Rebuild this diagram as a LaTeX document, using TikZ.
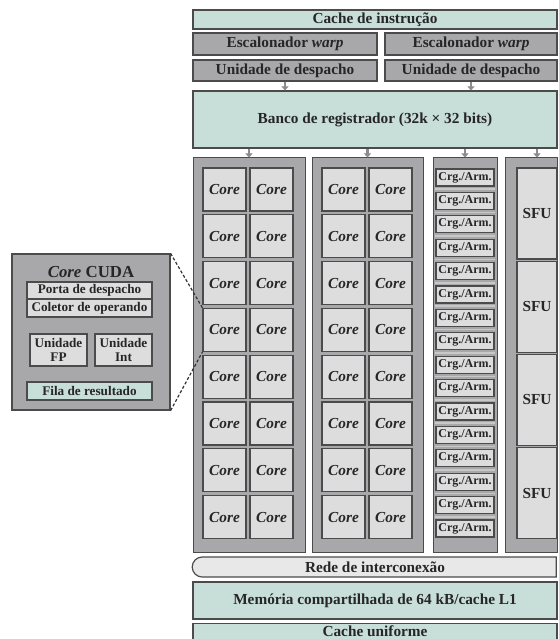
\documentclass[tikz,border=0pt]{standalone}
\usepackage{fontspec}
\setmainfont{Liberation Serif}
\usetikzlibrary{shapes.misc,arrows.meta,calc}
\definecolor{teal1}{RGB}{200,222,216}
\definecolor{gray1}{RGB}{168,168,170}
\definecolor{gray2}{RGB}{221,221,221}
\definecolor{bord}{RGB}{75,75,75}
\definecolor{arrg}{RGB}{140,140,140}
\definecolor{redec}{RGB}{232,232,232}
\definecolor{sepc}{RGB}{200,200,200}
\begin{document}
\begin{tikzpicture}[x=1pt,y=-1pt,
  base/.style={draw=bord, line width=1.2pt, inner sep=0pt, text=black!85,
    font=\bfseries\fontsize{15.3}{16}\selectfont},
  tealbox/.style={base, fill=teal1},
  graybox/.style={base, fill=gray1},
  corebox/.style={base, fill=gray2, minimum width=43pt, minimum height=43pt,
    font=\bfseries\itshape\fontsize{15.3}{16}\selectfont},
  colbox/.style={draw=bord, line width=1pt, fill=gray1, inner sep=0pt},
  crgbox/.style={base, fill=gray2, minimum width=58pt, minimum height=17pt,
    font=\bfseries\fontsize{12}{12}\selectfont},
  sfubox/.style={base, fill=gray2, minimum width=40pt, minimum height=91pt},
  smallbox/.style={base, fill=gray2, font=\bfseries\fontsize{13.2}{14}\selectfont},
  darr/.style={draw=arrg, line width=2.5pt, -{Triangle[width=7pt,length=4pt]}},
  dashl/.style={draw=black!80, line width=1.2pt, dash pattern=on 3pt off 2pt},
  sepl/.style={draw=sepc, line width=1.5pt},
]
\useasboundingbox (0,0) rectangle (558,639);

% top blocks
\node[tealbox, minimum width=364pt, minimum height=19pt] (cachei) at (375,19.5) {Cache de instrução};
\node[graybox, minimum width=184pt, minimum height=22pt] (esc1) at (285,44) {Escalonador \textit{warp}};
\node[graybox, minimum width=172pt, minimum height=22pt] (esc2) at (471,44) {Escalonador \textit{warp}};
\node[graybox, minimum width=184pt, minimum height=21pt] (desp1) at (285,70.5) {Unidade de despacho};
\node[graybox, minimum width=172pt, minimum height=21pt] (desp2) at (471,70.5) {Unidade de despacho};
\node[tealbox, minimum width=364pt, minimum height=57pt] (banco) at (375,119.5) {Banco de registrador (32k × 32 bits)};

\draw[darr] (desp1.south) -- (desp1.south |- banco.north);
\draw[darr] (desp2.south) -- (desp2.south |- banco.north);

% columns
\node[colbox, minimum width=112pt, minimum height=394pt] (col1) at (249,355) {};
\node[colbox, minimum width=111pt, minimum height=394pt] (col2) at (367.5,355) {};
\node[colbox, minimum width=64pt, minimum height=394pt] (col3) at (465,355) {};
\node[colbox, minimum width=52pt, minimum height=394pt] (col4) at (531,355) {};

% cores
\foreach \r in {0,...,7} {
  \pgfmathsetmacro\cy{189.5+46.8*\r}
  \node[corebox] (c1a\r) at (224.5,\cy) {Core};
  \node[corebox] (c1b\r) at (271.5,\cy) {Core};
  \node[corebox] (c2a\r) at (343.5,\cy) {Core};
  \node[corebox] (c2b\r) at (390.5,\cy) {Core};
}

% load/store
\foreach \k in {0,...,15} {
  \pgfmathsetmacro\cy{177.5+23.4*\k}
  \node[crgbox] (crg\k) at (465,\cy) {Crg./Arm.};
}
\foreach \k in {0,...,14} {
  \pgfmathtruncatemacro\n{\k+1}
  \draw[sepl] ($(crg\k.south west)!0.5!(crg\n.north west)$) -- ($(crg\k.south east)!0.5!(crg\n.north east)$);
}

% SFU
\foreach \k in {0,...,3} {
  \pgfmathsetmacro\cy{213.5+93.2*\k}
  \node[sfubox] (sfu\k) at (537,\cy) {SFU};
}

% arrows from register bank
\draw[darr] (banco.south -| col1.north) -- (col1.north);
\draw[darr] (banco.south -| col2.north) -- (col2.north);
\draw[darr] (banco.south -| col3.north) -- (col3.north);
\draw[darr] (banco.south -| sfu0.north) -- (col4.north -| sfu0.north);

% bottom blocks
\node[base, fill=redec, rounded rectangle, rounded rectangle right arc=none,
  minimum width=364pt, minimum height=20pt] (rede) at (375,567) {Rede de interconexão};
\node[tealbox, minimum width=364pt, minimum height=37pt] (mem) at (375,600.5) {Memória compartilhada de 64 kB/cache L1};
\node[tealbox, minimum width=364pt, minimum height=16pt] (cacheu) at (375,631.5) {Cache uniforme};

% left panel: CUDA core
\node[graybox, minimum width=158pt, minimum height=156pt] (cuda) at (91,332) {};
\node[inner sep=0pt, text=black!85, font=\bfseries\fontsize{16.8}{18}\selectfont] (cudat) at (91,272) {\textit{Core} CUDA};
\node[smallbox, minimum width=125pt, minimum height=17pt] (porta) at (89.5,290.5) {Porta de despacho};
\node[smallbox, minimum width=125pt, minimum height=18pt] (colet) at (89.5,308) {Coletor de operando};
\node[smallbox, minimum width=57pt, minimum height=32pt, align=center] (fp) at (58.5,350) {Unidade\\FP};
\node[smallbox, minimum width=57pt, minimum height=32pt, align=center] (int) at (123.5,350) {Unidade\\Int};
\node[smallbox, fill=teal1, minimum width=125pt, minimum height=18pt] (fila) at (89.5,391) {Fila de resultado};

\draw[dashl] (cuda.north east) -- (c1a3.north west);
\draw[dashl] (cuda.south east) -- (c1a3.south west);
\end{tikzpicture}
\end{document}
